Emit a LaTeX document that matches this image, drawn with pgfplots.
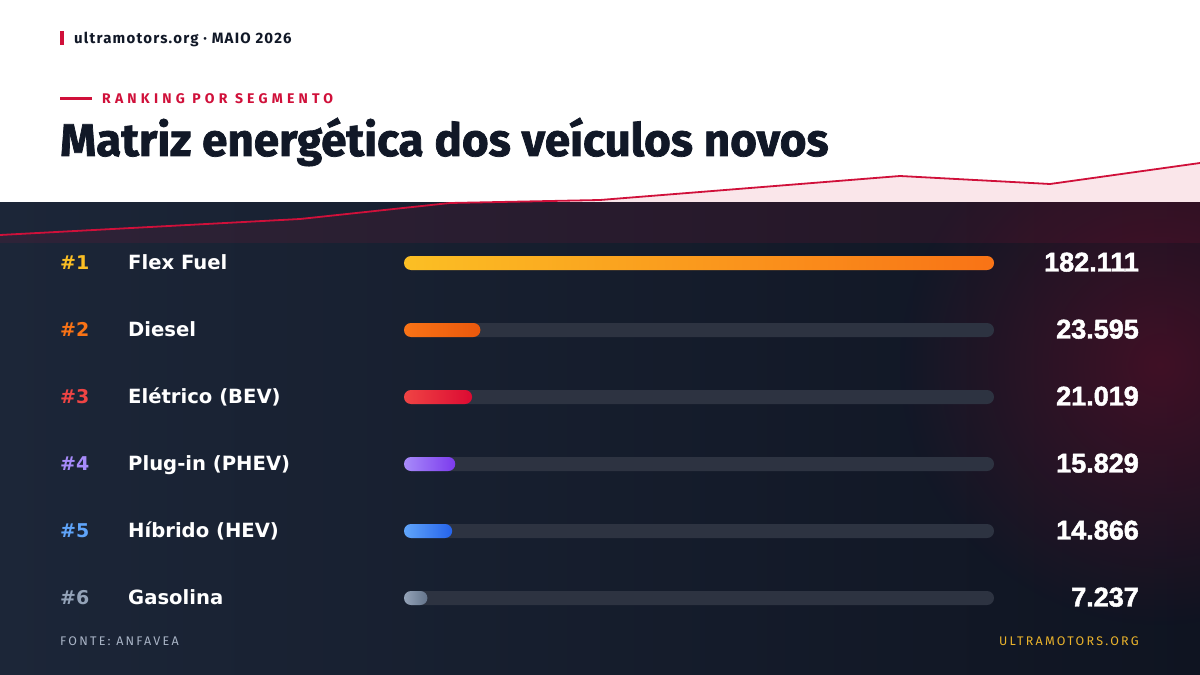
\documentclass[border=0pt]{standalone}
\usepackage{fontspec}
\setmainfont{Fira Sans}
\newfontfamily\heavy{Fira Sans}[UprightFeatures={FakeBold=1.6}, BoldFeatures={FakeBold=1.6}]
\newfontfamily\dvs{DejaVu Sans}
\newfontfamily\numf{Liberation Sans}[BoldFeatures={FakeBold=1.8}]
\newfontfamily\spacedA{Fira Sans}[LetterSpace=30]
\newfontfamily\spacedB{Fira Sans}[LetterSpace=18]
\newfontfamily\spacedC{Fira Sans}[LetterSpace=8]
\usepackage{pgfplots}
\pgfplotsset{compat=1.18}
\usetikzlibrary{fadings}
\definecolor{navy}{HTML}{111827}
\definecolor{crim}{HTML}{D0103A}
\definecolor{bgL}{HTML}{1C2638}
\definecolor{bgR}{HTML}{0F1421}
\definecolor{glow}{HTML}{5A0E28}
\definecolor{track}{HTML}{2D3341}
\definecolor{cA1}{HTML}{FBBF24}\definecolor{cA2}{HTML}{F97316}
\definecolor{cB1}{HTML}{F97316}\definecolor{cB2}{HTML}{EA580C}
\definecolor{cC1}{HTML}{EF4444}\definecolor{cC2}{HTML}{DC0A32}
\definecolor{cD1}{HTML}{A78BFA}\definecolor{cD2}{HTML}{7C3AED}
\definecolor{cE1}{HTML}{60A5FA}\definecolor{cE2}{HTML}{2563EB}
\definecolor{cF1}{HTML}{94A3B8}\definecolor{cF2}{HTML}{64748B}
\definecolor{foot}{HTML}{A9B4C6}
\definecolor{amber}{HTML}{EAB32C}
\tikzfading[name=glowfade, inner color=transparent!0, outer color=transparent!100]
\begin{document}
\begin{tikzpicture}[x=1pt,y=1pt]
\useasboundingbox (0,0) rectangle (1200,675);
% backgrounds
\fill[white] (0,472) rectangle (1200,675);
\shade[left color=bgL, right color=bgR] (0,0) rectangle (1200,472);
\begin{scope}
\clip (0,0) rectangle (1200,472);
\fill[glow, path fading=glowfade, opacity=0.65] (1160,310) circle (260);
\end{scope}
% sparkline axis (pixel coordinates)
\begin{axis}[at={(0pt,0pt)}, anchor=south west, width=1200pt, height=675pt,
  scale only axis, xmin=0, xmax=1200, ymin=0, ymax=675, y dir=reverse,
  hide axis, clip=false]
\addplot[draw=none, fill=crim, fill opacity=0.10] coordinates {
 (0,243) (0,235) (300,219) (450,203) (600,200) (900,176) (1050,184) (1200,163) (1200,243)};
\addplot[crim, line width=1.8pt, mark=none] coordinates {
 (0,235) (300,219) (450,203) (600,200) (900,176) (1050,184) (1200,163)};
\end{axis}
% bars axis
\begin{axis}[at={(404pt,43.5pt)}, anchor=south west, width=590pt, height=402pt,
  scale only axis, xmin=0, xmax=182111, ymin=0.5, ymax=6.5, y dir=reverse,
  hide axis, clip=false, xbar, bar width=14pt, bar shift=0pt]
\addplot[draw=none, fill=track, rounded corners=7pt] coordinates {(182111,1) (182111,2) (182111,3) (182111,4) (182111,5) (182111,6)};
\addplot[draw=none, left color=cA1, right color=cA2, rounded corners=7pt] coordinates {(182111,1)};
\addplot[draw=none, left color=cB1, right color=cB2, rounded corners=7pt] coordinates {(23595,2)};
\addplot[draw=none, left color=cC1, right color=cC2, rounded corners=7pt] coordinates {(21019,3)};
\addplot[draw=none, left color=cD1, right color=cD2, rounded corners=7pt] coordinates {(15829,4)};
\addplot[draw=none, left color=cE1, right color=cE2, rounded corners=7pt] coordinates {(14866,5)};
\addplot[draw=none, left color=cF1, right color=cF2, rounded corners=7pt] coordinates {(7237,6)};
\end{axis}
% header
\fill[crim] (60,630) rectangle (64,644);
\node[anchor=base west, inner sep=0, text=navy] at (74,631) {\fontsize{15}{16}\spacedC\bfseries ultramotors.org · MAIO 2026};
\fill[crim] (60,574.5) rectangle (92,577.5);
\node[anchor=base west, inner sep=0, text=crim] at (102,571) {\fontsize{14}{15}\spacedA\bfseries RANKING POR SEGMENTO};
\node[anchor=base west, inner sep=0, text=navy] at (60,519) {\fontsize{45.8}{50}\heavy\bfseries Matriz energética dos veículos novos};
% rows
\foreach \r/\c/\name/\val [count=\i from 0] in {1/cA1/Flex Fuel/182.111, 2/cB1/Diesel/23.595, 3/cC1/Elétrico (BEV)/21.019, 4/cD1/Plug-in (PHEV)/15.829, 5/cE1/Híbrido (HEV)/14.866, 6/cF1/Gasolina/7.237}{
  \pgfmathsetmacro{\yb}{675-270-67*\i}
  \node[anchor=base west, inner sep=0, text=\c] at (60,\yb) {\fontsize{19}{24}\dvs\bfseries \#\r};
  \node[anchor=base west, inner sep=0, text=white] at (128,\yb+0.5) {\fontsize{19.6}{24}\dvs\bfseries \name};
  \node[anchor=base east, inner sep=0, text=white] at (1139,\yb-1.5) {\fontsize{27}{28}\numf\bfseries \val};
}
% footer
\node[anchor=base west, inner sep=0, text=foot] at (60,30) {\fontsize{12.5}{14}\spacedB FONTE: ANFAVEA};
\node[anchor=base east, inner sep=0, text=amber] at (1139,30) {\fontsize{12.5}{14}\spacedB ULTRAMOTORS.ORG};
\end{tikzpicture}
\end{document}
